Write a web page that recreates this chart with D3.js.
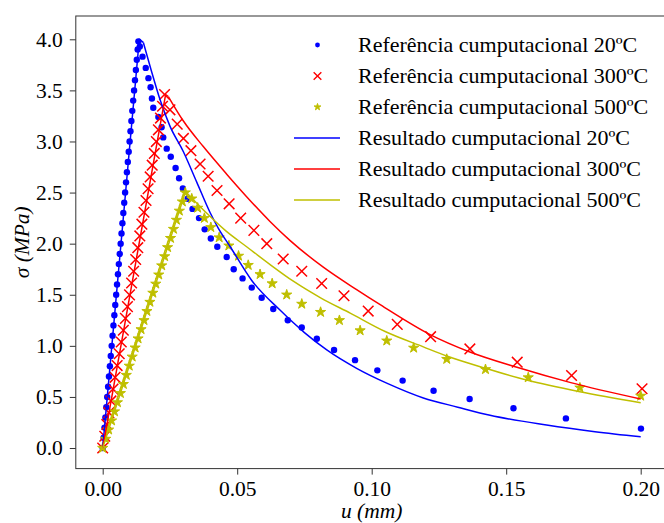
<!DOCTYPE html>
<html>
<head>
<meta charset="utf-8">
<script src="https://cdn.jsdelivr.net/npm/d3@7"></script>
<style>
	body { margin: 0; background: #fff; }
	svg text { font-family: "Liberation Serif", "Times New Roman", Times, "DejaVu Serif", serif; }
</style>
</head>
<body>
<svg id="chart" width="664" height="523"></svg>
<script>
// [u (mm), sigma (MPa)]
const ref20 = [
	[0, 0], [0.00033, 0.1], [0.00067, 0.2], [0.0010, 0.3], [0.00133, 0.4], [0.00167, 0.5],
	[0.0020, 0.6], [0.00233, 0.7], [0.00267, 0.8], [0.0030, 0.9], [0.00333, 1.0], [0.00367, 1.1],
	[0.0040, 1.2], [0.00433, 1.3], [0.00467, 1.4], [0.0050, 1.5], [0.00533, 1.6], [0.00567, 1.7],
	[0.0060, 1.8], [0.00633, 1.9], [0.00667, 2.0], [0.0070, 2.1], [0.00733, 2.2], [0.00767, 2.3],
	[0.0080, 2.4], [0.00833, 2.5], [0.00867, 2.6], [0.0090, 2.7], [0.00933, 2.8], [0.00967, 2.9],
	[0.0100, 3.0], [0.01033, 3.1], [0.01067, 3.2], [0.0110, 3.3], [0.01133, 3.4], [0.01167, 3.5],
	[0.0120, 3.6], [0.01233, 3.7], [0.01267, 3.8], [0.0130, 3.9], [0.01327, 3.98],
	[0.0138, 3.93], [0.0148, 3.83], [0.0160, 3.72], [0.0170, 3.62], [0.0178, 3.53], [0.0183, 3.42],
	[0.0188, 3.33], [0.0207, 3.24], [0.0219, 3.14], [0.0225, 3.04], [0.0238, 2.93], [0.0253, 2.85],
	[0.0271, 2.74], [0.0284, 2.64], [0.0298, 2.54], [0.0316, 2.44], [0.0334, 2.34], [0.0358, 2.25],
	[0.0379, 2.14], [0.0402, 2.05], [0.0426, 1.97], [0.0461, 1.87], [0.0487, 1.75], [0.0520, 1.66],
	[0.0554, 1.57], [0.0591, 1.47], [0.0634, 1.36], [0.0688, 1.25], [0.0740, 1.18], [0.0796, 1.07],
	[0.0860, 0.96], [0.0938, 0.86], [0.1021, 0.76], [0.1115, 0.66], [0.1230, 0.56], [0.1364, 0.48],
	[0.1527, 0.39], [0.1722, 0.29], [0.2001, 0.19],
]

const ref300 = [
	[0, 0], [0.00077, 0.115], [0.00153, 0.231], [0.0023, 0.346], [0.00307, 0.461], [0.00383, 0.577],
	[0.0046, 0.692], [0.00537, 0.807], [0.00614, 0.923], [0.0069, 1.038], [0.00767, 1.153],
	[0.00844, 1.269], [0.0092, 1.384], [0.00997, 1.499], [0.01074, 1.615], [0.0115, 1.73],
	[0.01227, 1.845], [0.01304, 1.961], [0.0138, 2.076], [0.01457, 2.191], [0.01534, 2.307],
	[0.0161, 2.422], [0.01687, 2.537], [0.01764, 2.653], [0.0184, 2.768], [0.01917, 2.883],
	[0.01994, 2.999], [0.0207, 3.114], [0.02147, 3.229], [0.02224, 3.345], [0.0230, 3.46],
	[0.0250, 3.31], [0.0277, 3.17], [0.0300, 3.03], [0.0328, 2.91], [0.0362, 2.78], [0.0392, 2.66],
	[0.0425, 2.52], [0.0470, 2.39], [0.0513, 2.25], [0.0562, 2.13], [0.0610, 2.00], [0.0671, 1.85],
	[0.0740, 1.73], [0.0814, 1.61], [0.0897, 1.49], [0.0987, 1.34], [0.1095, 1.21], [0.1219, 1.09],
	[0.1365, 0.97], [0.1541, 0.84], [0.1743, 0.71], [0.2005, 0.58],
]

const ref500 = [
	[0, 0], [0.0011, 0.089], [0.0022, 0.179], [0.0033, 0.268], [0.00439, 0.357], [0.00548, 0.446],
	[0.00658, 0.536], [0.00768, 0.625], [0.00877, 0.714], [0.00987, 0.804], [0.01097, 0.893],
	[0.01206, 0.982], [0.01315, 1.071], [0.01426, 1.161], [0.01535, 1.25], [0.01644, 1.339],
	[0.01755, 1.429], [0.01864, 1.518], [0.01973, 1.607], [0.02083, 1.696], [0.02193, 1.786],
	[0.02303, 1.875], [0.02412, 1.964], [0.02522, 2.054], [0.02632, 2.143], [0.02741, 2.232],
	[0.0285, 2.321], [0.02961, 2.411], [0.0307, 2.50],
	[0.0331, 2.44], [0.0353, 2.35], [0.0378, 2.25], [0.0402, 2.16], [0.0433, 2.06], [0.0469, 1.98],
	[0.0505, 1.88], [0.0541, 1.79], [0.0585, 1.70], [0.0630, 1.61], [0.0684, 1.50], [0.0740, 1.41],
	[0.0810, 1.33], [0.0880, 1.25], [0.0957, 1.15], [0.1056, 1.05], [0.1156, 0.98], [0.1279, 0.87],
	[0.1423, 0.77], [0.1582, 0.69], [0.1774, 0.59], [0.2000, 0.51],
]

// result curves: first point is the origin, second the peak, then the softening branch
const res20 = [
	[0, 0], [0.0136, 4.00], [0.0151, 3.97], [0.0180, 3.70], [0.0213, 3.41], [0.0250, 3.15],
	[0.0300, 2.90], [0.0350, 2.60], [0.0400, 2.30], [0.0430, 2.15], [0.0474, 1.97], [0.0554, 1.64],
	[0.0659, 1.35], [0.0750, 1.13], [0.0833, 0.96], [0.0944, 0.78], [0.1060, 0.63], [0.1192, 0.49],
	[0.1320, 0.40], [0.1440, 0.32], [0.1650, 0.225], [0.1830, 0.16], [0.2000, 0.11],
]

const res300 = [
	[0, 0], [0.0234, 3.46], [0.0244, 3.44], [0.0300, 3.20], [0.0374, 2.95], [0.0461, 2.68],
	[0.0535, 2.46], [0.0621, 2.22], [0.0697, 2.03], [0.0820, 1.77], [0.0944, 1.55], [0.1033, 1.40],
	[0.1217, 1.11], [0.1365, 0.94], [0.1540, 0.79], [0.1740, 0.64], [0.2000, 0.48],
]

const res500 = [
	[0, 0], [0.0308, 2.51], [0.0330, 2.45], [0.0390, 2.29], [0.0460, 2.12], [0.0535, 1.97],
	[0.0620, 1.80], [0.0710, 1.63], [0.0810, 1.47], [0.0920, 1.32], [0.1050, 1.14], [0.1192, 0.99],
	[0.1279, 0.90], [0.1423, 0.78], [0.1576, 0.665], [0.1774, 0.55], [0.2000, 0.443],
]

const xTicks = [0, 0.05, 0.10, 0.15, 0.20]
const yTicks = [0, 0.5, 1.0, 1.5, 2.0, 2.5, 3.0, 3.5, 4.0]

const legendLabels = [
	"Referência cumputacional 20ºC",
	"Referência cumputacional 300ºC",
	"Referência cumputacional 500ºC",
	"Resultado cumputacional 20ºC",
	"Resultado cumputacional 300ºC",
	"Resultado cumputacional 500ºC",
]

const colours = { c20: "#0000ff", c300: "#ff0000", c500: "#bfbf00" }

const config = {
	left: 75.8,
	right: 667.6,
	top: 16,
	bottom: 468.6,
	tickFontSize: 21.5,
	fontSize: 22,
	font: "\"Liberation Serif\", \"Times New Roman\", Times, serif",
	axisColour: "#333",
}

const svg = d3.select("#chart")

const x = d3.scaleLinear()
	.domain([-0.01, 0.21])
	.range([config.left, config.right])
const y = d3.scaleLinear()
	.domain([-0.2013, 4.228])
	.range([config.bottom, config.top])

svg.append("clipPath")
	.attr("id", "plotClip")
	.append("rect")
	.attr("x", config.left)
	.attr("y", config.top)
	.attr("width", config.right - config.left)
	.attr("height", config.bottom - config.top)

const plot = svg.append("g").attr("clip-path", "url(#plotClip)")

// Markers
const starPath = d3.symbol().type(d3.symbolStar)
const crossPath = d3.symbol().type(d3.symbolX)

function drawDots(g, data, r) {
	g.selectAll("circle")
		.data(data)
		.join("circle")
		.attr("cx", d => x(d[0]))
		.attr("cy", d => y(d[1]))
		.attr("r", r)
		.attr("fill", colours.c20)
}

function drawCrosses(g, data, size) {
	g.selectAll("path")
		.data(data)
		.join("path")
		.attr("d", crossPath.size(size)())
		.attr("transform", d => `translate(${x(d[0])},${y(d[1])})`)
		.attr("fill", "none")
		.attr("stroke", colours.c300)
		.attr("stroke-width", 1.5)
}

function drawStars(g, data, size) {
	g.selectAll("path")
		.data(data)
		.join("path")
		.attr("d", starPath.size(size)())
		.attr("transform", d => `translate(${x(d[0])},${y(d[1])})`)
		.attr("fill", colours.c500)
		.attr("stroke", colours.c500)
		.attr("stroke-width", 1)
}

drawDots(plot.append("g"), ref20, 3.2)
drawCrosses(plot.append("g"), ref300, 75)
drawStars(plot.append("g"), ref500, 32)

// Result lines: straight elastic branch, smooth softening branch
const straight = d3.line()
	.x(d => x(d[0]))
	.y(d => y(d[1]))
const smooth = d3.line()
	.curve(d3.curveMonotoneX)
	.x(d => x(d[0]))
	.y(d => y(d[1]))

;[[res20, colours.c20], [res300, colours.c300], [res500, colours.c500]].forEach(([data, c]) => {
	const g = plot.append("g")
		.attr("fill", "none")
		.attr("stroke", c)
		.attr("stroke-width", 1.5)
		.attr("stroke-linejoin", "round")
	g.append("path").attr("d", straight(data.slice(0, 3)))
	g.append("path").attr("d", smooth(data.slice(2)))
})

// Axes
const xAxis = svg.append("g")
	.attr("transform", `translate(0,${config.bottom})`)
	.call(d3.axisBottom(x).tickValues(xTicks).tickFormat(d3.format(".2f")).tickSize(6).tickPadding(6))
const yAxis = svg.append("g")
	.attr("transform", `translate(${config.left},0)`)
	.call(d3.axisLeft(y).tickValues(yTicks).tickFormat(d3.format(".1f")).tickSize(6).tickPadding(7))

;[xAxis, yAxis].forEach(ax => {
	ax.attr("font-family", config.font).attr("font-size", config.tickFontSize)
	ax.select(".domain").remove()
	ax.selectAll("line").attr("stroke", config.axisColour).attr("stroke-width", 1)
	ax.selectAll("text").attr("fill", "#000")
})

// Spines (left, bottom, top; right one is past the image edge)
svg.append("rect")
	.attr("x", config.left)
	.attr("y", config.top)
	.attr("width", config.right - config.left)
	.attr("height", config.bottom - config.top)
	.attr("fill", "none")
	.attr("stroke", config.axisColour)
	.attr("stroke-width", 1)

// Axis labels
svg.append("text")
	.attr("x", (config.left + config.right) / 2)
	.attr("y", 518)
	.attr("text-anchor", "middle")
	.attr("font-family", config.font)
	.attr("font-size", config.tickFontSize)
	.style("font-style", "italic")
	.text("u (mm)")

svg.append("text")
	.attr("transform", `translate(29,${(config.top + config.bottom) / 2}) rotate(-90)`)
	.attr("text-anchor", "middle")
	.attr("font-family", config.font)
	.attr("font-size", config.tickFontSize)
	.style("font-style", "italic")
	.text("σ (MPa)")

// Legend
const legendRows = [45, 76, 107, 138, 169, 200]
const legend = svg.append("g")

legend.selectAll("text")
	.data(legendLabels)
	.join("text")
	.attr("x", 358)
	.attr("y", (d, i) => legendRows[i])
	.attr("dy", "0.33em")
	.attr("font-family", config.font)
	.attr("font-size", config.fontSize)
	.text(d => d)

legend.append("circle")
	.attr("cx", 317.5)
	.attr("cy", legendRows[0])
	.attr("r", 2.4)
	.attr("fill", colours.c20)
legend.append("path")
	.attr("d", crossPath.size(40)())
	.attr("transform", `translate(317.5,${legendRows[1]})`)
	.attr("fill", "none")
	.attr("stroke", colours.c300)
	.attr("stroke-width", 1.4)
legend.append("path")
	.attr("d", starPath.size(14)())
	.attr("transform", `translate(317.5,${legendRows[2]})`)
	.attr("fill", colours.c500)
	.attr("stroke", colours.c500)
	.attr("stroke-width", 1)

;[colours.c20, colours.c300, colours.c500].forEach((c, i) => {
	legend.append("line")
		.attr("x1", 294)
		.attr("x2", 340)
		.attr("y1", legendRows[i + 3])
		.attr("y2", legendRows[i + 3])
		.attr("stroke", c)
		.attr("stroke-width", 1.5)
})
</script>
</body>
</html>
